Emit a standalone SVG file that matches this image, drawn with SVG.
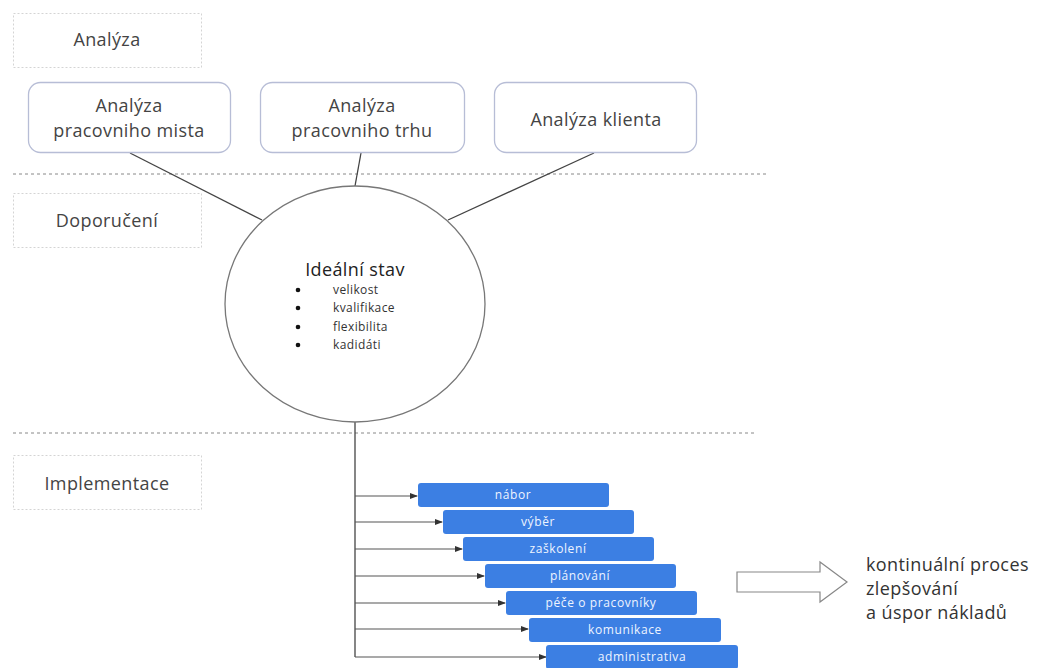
<svg xmlns="http://www.w3.org/2000/svg" width="1042" height="668" viewBox="0 0 1042 668">
<style>
.lbl{fill:#fff;stroke:#d4d4d4;stroke-width:1;stroke-dasharray:2 2}
.lt{font-family:"Open Sans","Noto Sans",sans-serif;font-size:18px;letter-spacing:0.4px;fill:#444;text-anchor:middle}
.rb{fill:#fff;stroke:#b7bdd6;stroke-width:1.3}
.sep{stroke:#888;stroke-width:1;stroke-dasharray:3 3}
.con{stroke:#444;stroke-width:1.3;fill:none}
.arr{stroke:#555;stroke-width:1.2;fill:none;marker-end:url(#ah)}
.bb{fill:#3c7fe3}
.bt{font-family:"Open Sans","Noto Sans",sans-serif;font-size:12px;letter-spacing:0.6px;fill:#eef4ff;text-anchor:middle}
.st{font-family:"Open Sans","Noto Sans",sans-serif;font-size:12px;letter-spacing:0.4px;fill:#333}
</style>
<defs>
<marker id="ah" markerWidth="8" markerHeight="6" refX="7" refY="3" orient="auto" markerUnits="userSpaceOnUse">
<path d="M0,0 L8,3 L0,6 Z" fill="#333"/>
</marker>
</defs>
<rect width="1042" height="668" fill="#fff"/>
<g id="separators">
<line class="sep" x1="13" y1="174" x2="768" y2="174"/>
<line class="sep" x1="13" y1="433" x2="755" y2="433"/>
</g>
<g id="lbl-analyza"><rect class="lbl" x="13.5" y="13.5" width="188" height="54"/><text class="lt" x="107" y="46">Analýza</text></g>
<g id="lbl-doporuceni"><rect class="lbl" x="13.5" y="193.5" width="188" height="54"/><text class="lt" x="107" y="227">Doporučení</text></g>
<g id="lbl-implementace"><rect class="lbl" x="13.5" y="455.5" width="188" height="54"/><text class="lt" x="107" y="490">Implementace</text></g>
<g id="connectors">
<line class="con" x1="130" y1="153" x2="262" y2="220"/>
<line class="con" x1="361" y1="153" x2="355" y2="186"/>
<line class="con" x1="594" y1="153" x2="448" y2="220"/>
<line class="con" x1="355" y1="422" x2="355" y2="657" stroke="#667"/>
<line class="arr" x1="355" y1="496" x2="417" y2="496"/>
<line class="arr" x1="355" y1="522" x2="442" y2="522"/>
<line class="arr" x1="355" y1="549" x2="462" y2="549"/>
<line class="arr" x1="355" y1="576" x2="484" y2="576"/>
<line class="arr" x1="355" y1="603" x2="505" y2="603"/>
<line class="arr" x1="355" y1="629" x2="528" y2="629"/>
<line class="arr" x1="355" y1="657" x2="546" y2="657"/>
</g>
<g id="box1"><rect class="rb" x="28.5" y="82.5" width="202" height="70" rx="12"/><text class="lt" x="129" y="112">Analýza</text><text class="lt" x="129" y="137">pracovniho mista</text></g>
<g id="box2"><rect class="rb" x="260.5" y="82.5" width="204" height="70" rx="12"/><text class="lt" x="362" y="112">Analýza</text><text class="lt" x="362" y="137">pracovniho trhu</text></g>
<g id="box3"><rect class="rb" x="494.5" y="82.5" width="202" height="70" rx="12"/><text class="lt" x="596" y="126">Analýza klienta</text></g>
<g id="ideal">
<ellipse cx="355" cy="304" rx="130" ry="118" fill="#fff" stroke="#777" stroke-width="1.3"/>
<text class="lt" x="355" y="276" style="fill:#222">Ideální stav</text>
<g fill="#111"><circle cx="298" cy="290" r="2.3"/><circle cx="298" cy="308" r="2.3"/><circle cx="298" cy="327" r="2.3"/><circle cx="298" cy="345" r="2.3"/></g>
<text class="st" x="333" y="294">velikost</text>
<text class="st" x="333" y="312">kvalifikace</text>
<text class="st" x="333" y="331">flexibilita</text>
<text class="st" x="333" y="349">kadidáti</text>
</g>
<g id="b-nabor"><rect class="bb" x="418" y="483" width="191" height="24" rx="3"/><text class="bt" x="513" y="499">nábor</text></g>
<g id="b-vyber"><rect class="bb" x="443" y="510" width="191" height="24" rx="3"/><text class="bt" x="538" y="526">výběr</text></g>
<g id="b-zaskoleni"><rect class="bb" x="463" y="537" width="191" height="24" rx="3"/><text class="bt" x="558" y="553">zaškolení</text></g>
<g id="b-planovani"><rect class="bb" x="485" y="564" width="191" height="24" rx="3"/><text class="bt" x="580" y="580">plánování</text></g>
<g id="b-pece"><rect class="bb" x="506" y="591" width="191" height="24" rx="3"/><text class="bt" x="601" y="607">péče o pracovníky</text></g>
<g id="b-komunikace"><rect class="bb" x="529" y="618" width="192" height="24" rx="3"/><text class="bt" x="625" y="634">komunikace</text></g>
<g id="b-administrativa"><rect class="bb" x="546" y="645" width="192" height="24" rx="3"/><text class="bt" x="642" y="661">administrativa</text></g>
<g id="block-arrow"><path d="M737,572 L820,572 L820,562 L847,582 L820,602 L820,592 L737,592 Z" fill="#fff" stroke="#888" stroke-width="1.2"/></g>
<g id="result">
<text class="lt" style="text-anchor:start;fill:#333" x="866" y="571">kontinuální proces</text>
<text class="lt" style="text-anchor:start;fill:#333" x="866" y="595">zlepšování</text>
<text class="lt" style="text-anchor:start;fill:#333" x="866" y="619">a úspor nákladů</text>
</g>
</svg>
